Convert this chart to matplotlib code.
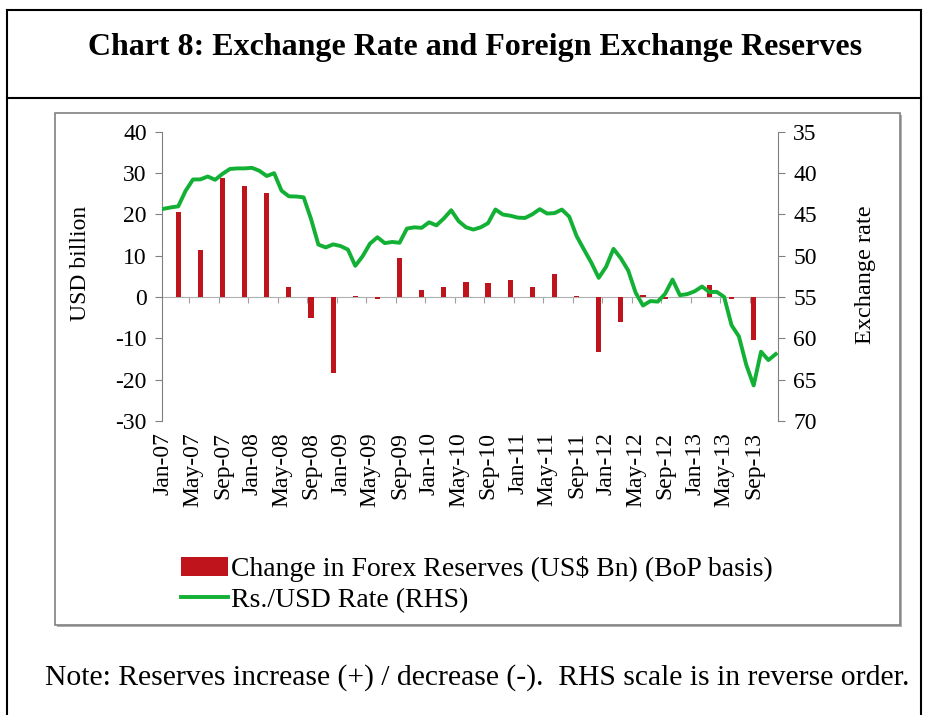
import numpy as np
import matplotlib
matplotlib.use('Agg')
import matplotlib.pyplot as plt
from matplotlib.patches import Rectangle, Patch
from matplotlib.lines import Line2D

plt.rcParams['font.family'] = 'Liberation Serif'
plt.rcParams['axes.unicode_minus'] = False

# Rs./USD monthly rate, Jan-07 .. Dec-13
rate = [
    44.33, 44.16, 44.03, 42.15, 40.78, 40.77, 40.42, 40.82, 40.10, 39.51, 39.44, 39.44,  # 2007
    39.37, 39.73, 40.36, 40.02, 42.13, 42.82, 42.84, 42.94, 45.56, 48.66, 49.00, 48.63,  # 2008
    48.83, 49.26, 51.23, 50.06, 48.53, 47.77, 48.48, 48.34, 48.44, 46.72, 46.57, 46.63,  # 2009
    45.96, 46.33, 45.50, 44.50, 45.81, 46.56, 46.84, 46.57, 46.06, 44.41, 45.02, 45.16,  # 2010
    45.39, 45.44, 44.99, 44.37, 44.90, 44.85, 44.42, 45.28, 47.63, 49.26, 50.85, 52.68,  # 2011
    51.34, 49.17, 50.32, 51.80, 54.47, 56.03, 55.49, 55.56, 54.61, 52.89, 54.78, 54.65,  # 2012
    54.31, 53.73, 54.40, 54.38, 54.99, 58.40, 59.77, 63.21, 65.70, 61.62, 62.63, 61.90,  # 2013
]

# change in forex reserves, quarters ending Mar-07 .. Sep-13
reserves = [20.5, 11.3, 28.8, 26.8, 25.1, 2.4, -5.1, -18.5, 0.3, -0.4,
            9.5, 1.8, 2.4, 3.7, 3.3, 4.0, 2.4, 5.5, 0.3, -13.2,
            -6.1, 0.5, -0.4, 0.1, 2.8, -0.4, -10.5]

tick_labels = ['Jan-07', 'May-07', 'Sep-07', 'Jan-08', 'May-08', 'Sep-08', 'Jan-09',
               'May-09', 'Sep-09', 'Jan-10', 'May-10', 'Sep-10', 'Jan-11', 'May-11',
               'Sep-11', 'Jan-12', 'May-12', 'Sep-12', 'Jan-13', 'May-13', 'Sep-13']

months = np.arange(len(rate))
quarters = np.arange(2, 2 + 3 * len(reserves), 3)

W, H = 926, 715
fig = plt.figure(figsize=(W / 100, H / 100), dpi=100)

def fx(x):
    return x / W

def fy(y):
    return 1 - y / H

# outer frame and title box
for xs, ys in [((7, 7), (10, 715)), ((921, 921), (10, 715)), ((7, 921), (10, 10)), ((7, 921), (98, 98))]:
    fig.add_artist(Line2D([fx(xs[0]), fx(xs[1])], [fy(ys[0]), fy(ys[1])], color='black', lw=1.5))

# chart box with shadow
fig.add_artist(Rectangle((fx(57), fy(627)), fx(900) - fx(55), fy(113) - fy(625),
                         facecolor='#b0b0b0', edgecolor='none', zorder=-2))
fig.add_artist(Rectangle((fx(55), fy(625)), fx(900) - fx(55), fy(113) - fy(625),
                         facecolor='white', edgecolor='#808080', lw=1.2, zorder=-1))

fig.text(fx(475), fy(47), 'Chart 8: Exchange Rate and Foreign Exchange Reserves',
         ha='center', va='center', fontsize=23, fontweight='bold')

ax = fig.add_axes([fx(162), fy(421), fx(778) - fx(162), fy(131.7) - fy(421)])
ax.patch.set_alpha(0)
ax.bar(quarters, reserves, width=0.7, color='#c0141c', zorder=2)
ax.set_ylim(-30, 40)
ax.set_yticks(range(-30, 41, 10))
ax.set_xlim(-0.2, 83.3)
ax.set_xticks(np.arange(0, 81, 4))
ax.set_xticklabels(tick_labels, rotation=90)
ax.tick_params(axis='x', length=0, pad=8, labelsize=17)
ax.tick_params(axis='y', direction='out', length=5, color='#808080', labelsize=17, pad=6)
for s in ['top', 'right', 'bottom']:
    ax.spines[s].set_visible(False)
ax.spines['left'].set_color('#808080')

# zero line with category ticks
zx = ax.secondary_xaxis(30 / 70)
zx.set_xticks(np.arange(3.5, 84, 4))
zx.tick_params(length=4, color='#a0a0a0', labelbottom=False, direction='out')
zx.spines['bottom'].set_color('#b0b0b0')

ax2 = ax.twinx()
ax2.plot(months, rate, color='#12b034', lw=2.8, zorder=3)
ax2.set_ylim(70, 35)
ax2.set_yticks(range(35, 71, 5))
ax2.tick_params(axis='y', direction='out', length=5, color='#808080', labelsize=17, pad=6)
for s in ['top', 'left', 'bottom']:
    ax2.spines[s].set_visible(False)
ax2.spines['right'].set_color('#808080')

fig.text(fx(80), fy(263), 'USD billion', rotation=90, ha='center', va='center', fontsize=17)
fig.text(fx(866), fy(275), 'Exchange rate', rotation=90, ha='center', va='center', fontsize=17.5)

handles = [Patch(facecolor='#c0141c'), Line2D([], [], color='#12b034', lw=2.8)]
fig.legend(handles, ['Change in Forex Reserves (US$ Bn) (BoP basis)', 'Rs./USD Rate (RHS)'],
           loc='upper left', bbox_to_anchor=(fx(170), fy(545)), frameon=False,
           fontsize=20, handlelength=1.7, handletextpad=0.1, labelspacing=0.2,
           borderaxespad=0)

fig.text(fx(45), fy(678), 'Note: Reserves increase (+) / decrease (-).  RHS scale is in reverse order.',
         ha='left', va='center', fontsize=21.3)

fig.savefig('out.png', dpi=100)
